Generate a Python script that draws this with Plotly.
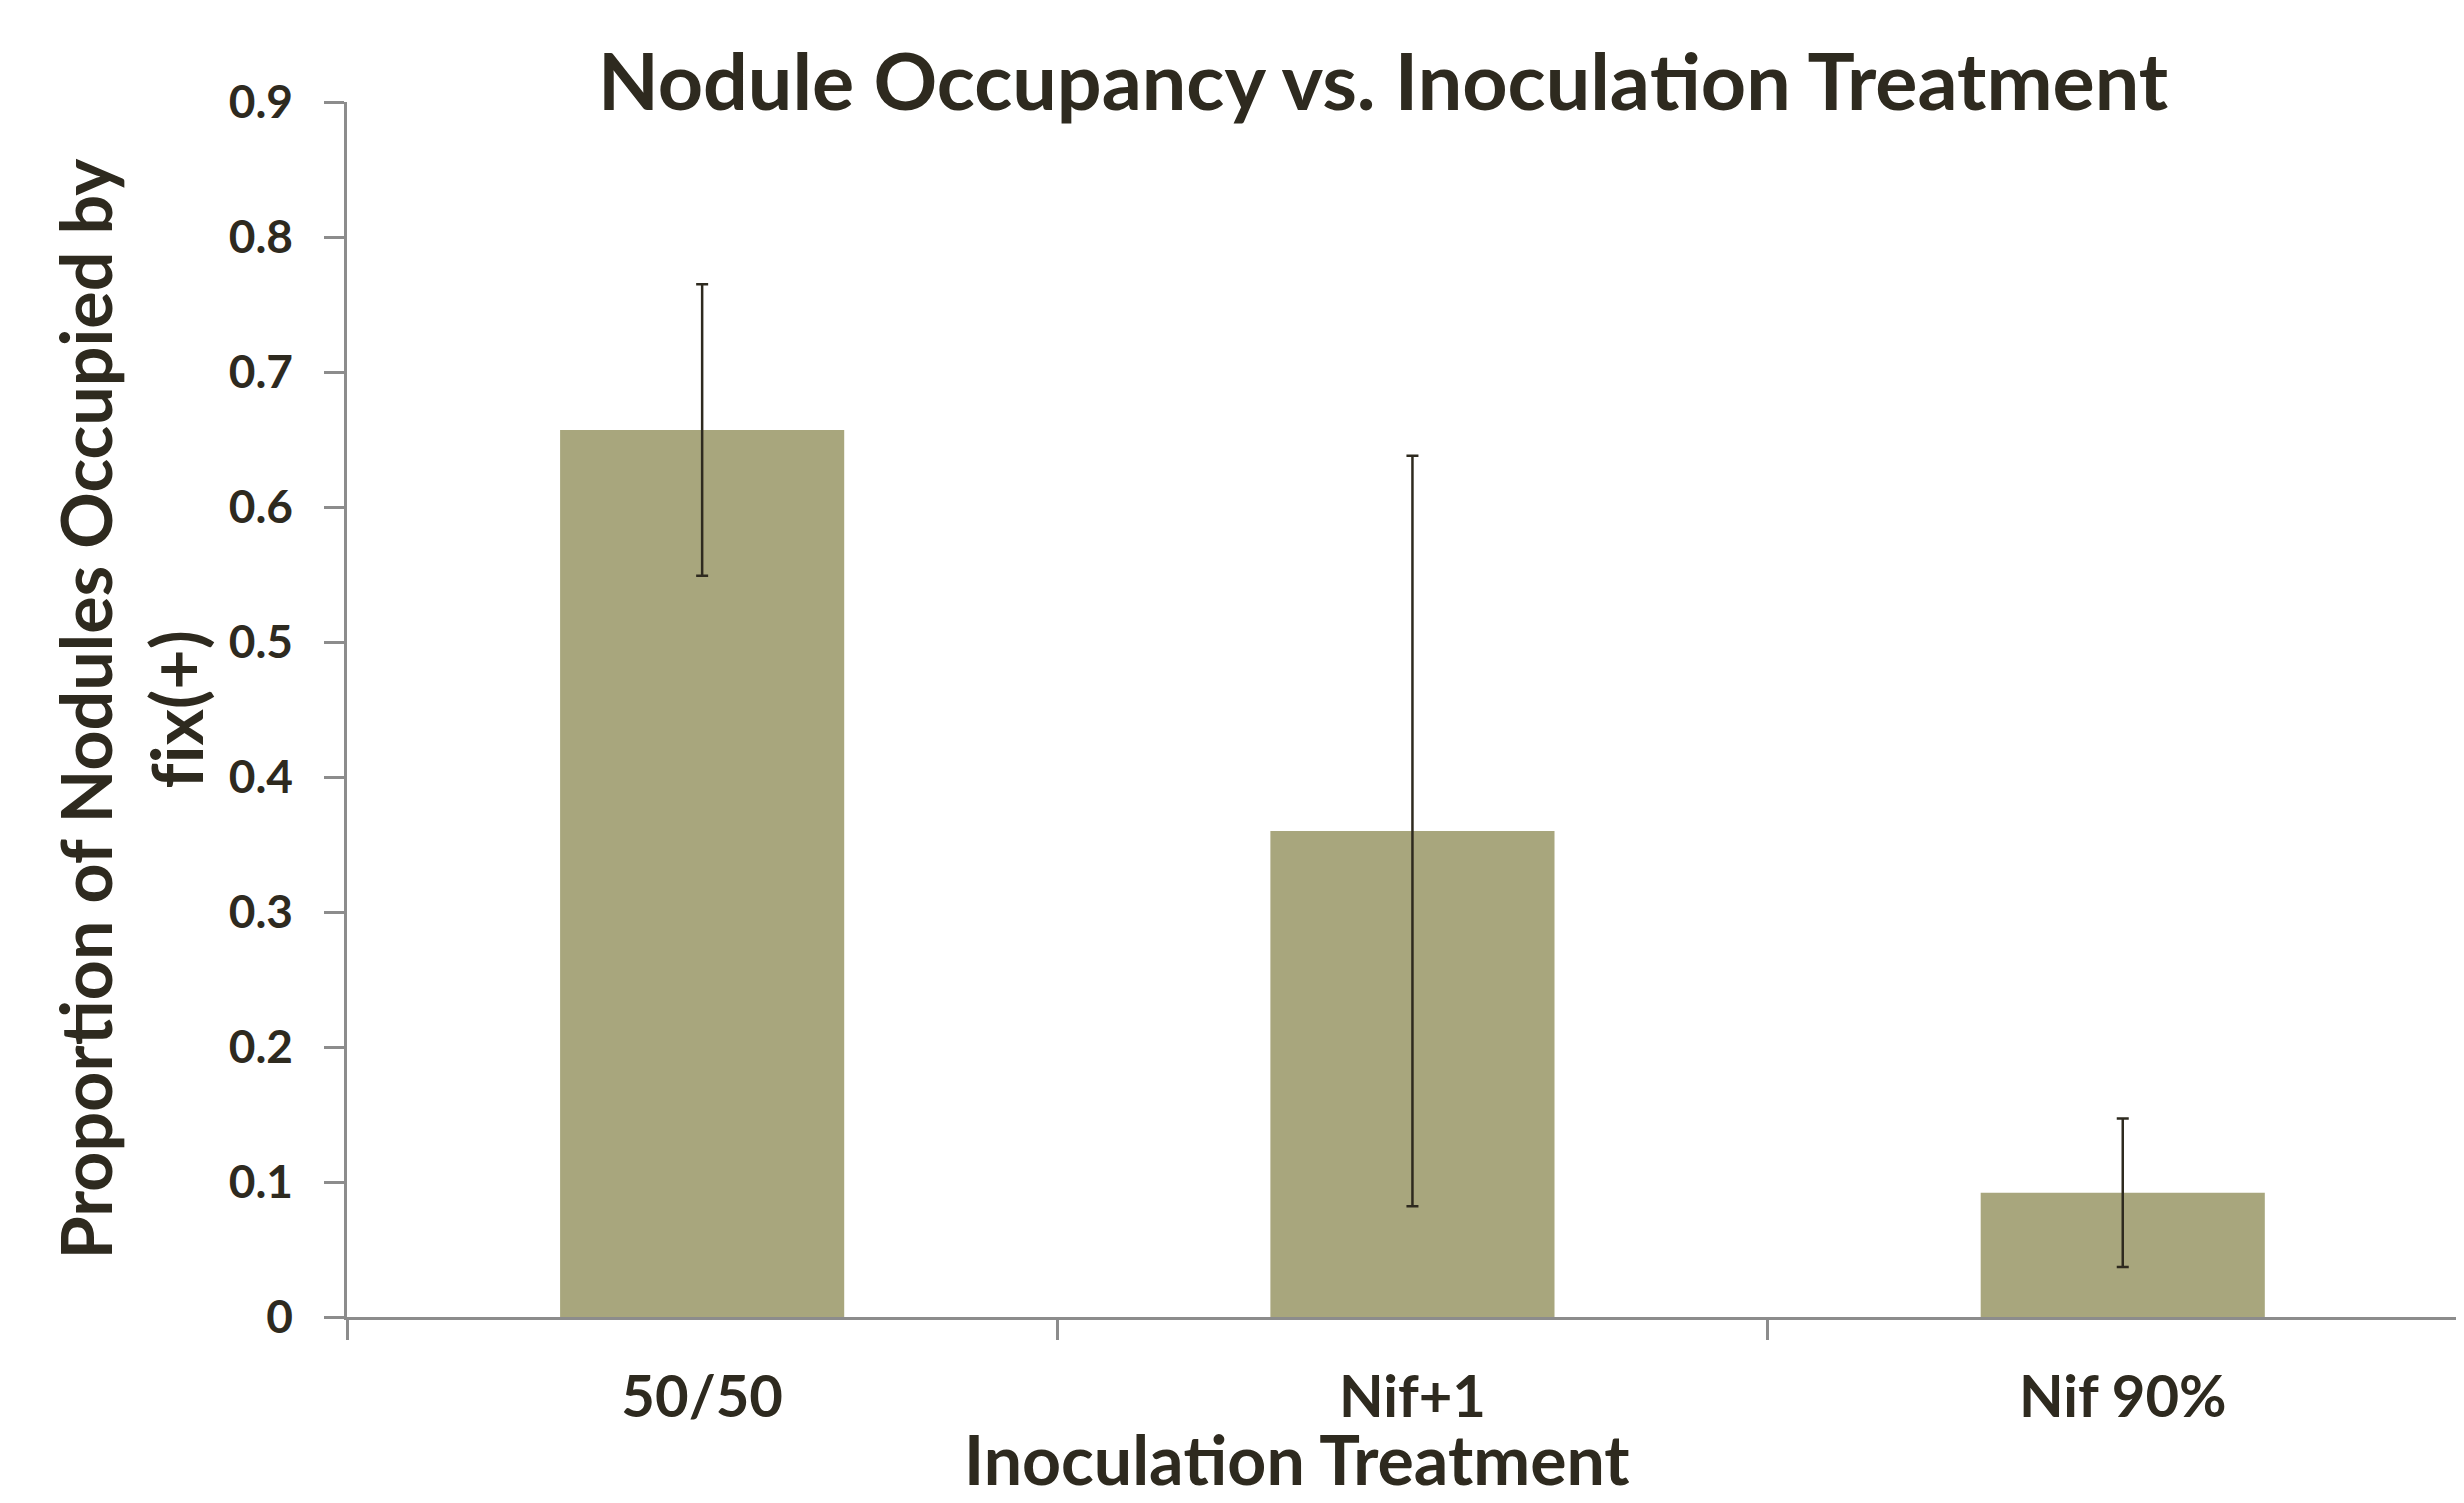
import plotly.graph_objects as go

categories = ["50/50", "Nif+1", "Nif 90%"]
values = [0.657, 0.360, 0.092]
errors = [0.108, 0.278, 0.055]
y_ticks = [0, 0.1, 0.2, 0.3, 0.4, 0.5, 0.6, 0.7, 0.8, 0.9]

TEXT = "#2E2A1F"
AXIS = "#8C8C8C"
BAR = "#A8A67D"
FONT = "Lato"
ZWNJ = "\u200c"  # keeps f-i / t-i from being joined into ligatures

W, H = 2464, 1503
OFF = 8  # page body margin
L, R, T, B = 347 - OFF, 0, 102 - OFF, 186 + OFF
PW = W - L - R
PH = H - T - B

fig = go.Figure()
fig.add_trace(go.Bar(
    x=categories, y=values,
    marker=dict(color=BAR, line=dict(width=0)),
    error_y=dict(type="data", array=errors, symmetric=True,
                 color=TEXT, thickness=2.5, width=6),
    showlegend=False,
))

fig.update_layout(
    width=W, height=H,
    margin=dict(l=L, r=R, t=T, b=B, autoexpand=False),
    paper_bgcolor="white", plot_bgcolor="white",
    bargap=0.6,
    font=dict(family=FONT, color=TEXT),
    xaxis=dict(
        range=[-0.5, -0.5 + PW / 710.3],
        showline=True, linecolor=AXIS, linewidth=2.5,
        ticks="outside", tickson="boundaries", ticklen=20, tickwidth=2.5, tickcolor=AXIS,
        tickfont=dict(size=58, family=FONT, color=TEXT, weight="bold"),
        ticklabelstandoff=28,
        showgrid=False, zeroline=False,
        automargin=False,
    ),
    yaxis=dict(
        range=[0, 0.9], tickvals=y_ticks,
        ticktext=[("%g" % v) for v in y_ticks],
        showline=True, linecolor=AXIS, linewidth=2.5,
        ticks="outside", ticklen=20, tickwidth=2.5, tickcolor=AXIS,
        tickfont=dict(size=46, family=FONT, color=TEXT, weight="bold"),
        ticklabelstandoff=22,
        showgrid=False, zeroline=False,
        automargin=False,
    ),
)

# chart title
fig.add_annotation(
    text="<b>Nodule Occupancy vs. Inocula" + ZWNJ + "tion Treatment</b>",
    xref="paper", yref="paper",
    x=(1383 - 347) / PW, y=1 + (102 - 79) / PH,
    xanchor="center", yanchor="middle", showarrow=False,
    font=dict(size=79, family=FONT, color=TEXT),
)

# x-axis title
fig.add_annotation(
    text="<b>Inocula" + ZWNJ + "tion Treatment</b>",
    xref="paper", yref="paper",
    x=(1297 - 347) / PW, y=(1317 - 1458) / PH,
    xanchor="center", yanchor="middle", showarrow=False,
    font=dict(size=68, family=FONT, color=TEXT),
)

# y-axis title
fig.add_annotation(
    text="<b>Proportion of Nodules Occupied by<br>f" + ZWNJ + "ix(+)</b>",
    textangle=-90,
    xref="paper", yref="paper",
    x=(130 - 347) / PW, y=0.5,
    xanchor="center", yanchor="middle",
    showarrow=False, align="center",
    font=dict(size=70, family=FONT, color=TEXT),
)

fig.write_html("out.html")
